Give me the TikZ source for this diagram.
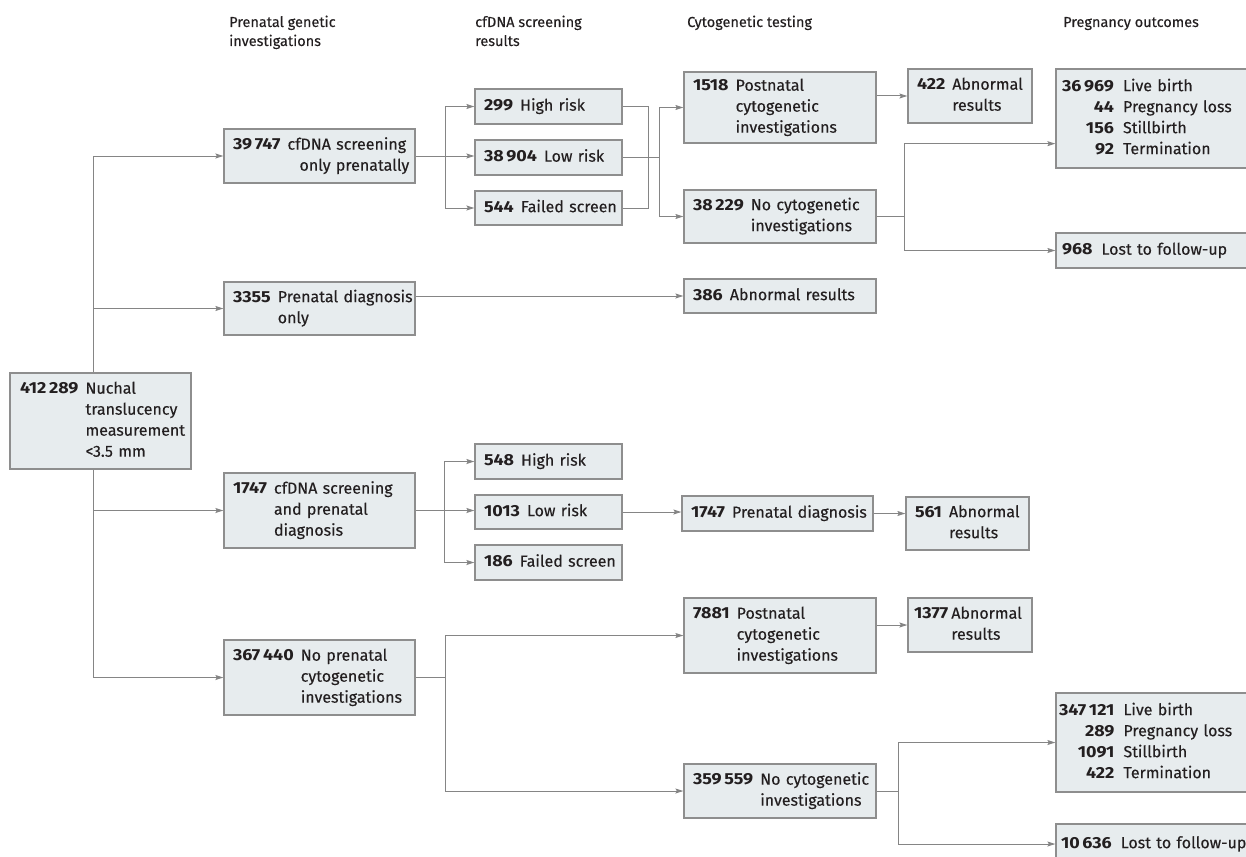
\documentclass[tikz,border=0pt]{standalone}
\usepackage{fontspec}
\setmainfont{Fira Sans}[UprightFeatures={FakeBold=0.25},BoldFeatures={FakeStretch=1.12}]
\usetikzlibrary{arrows.meta}

\definecolor{boxfill}{HTML}{E7ECEE}
\definecolor{boxline}{HTML}{8E8E8E}
\definecolor{linkcol}{HTML}{858585}
\definecolor{ink}{HTML}{231F20}

\pgfdeclarelayer{background}
\pgfsetlayers{background,main}

% number column (bold, right aligned) followed by the description
\newcommand\boxtext[1]{\begin{tabular}{@{}r@{\hspace{7pt}}l@{}}#1\end{tabular}}
\newcommand\outtext[1]{\begin{tabular}{@{}r@{\hspace{9pt}}l@{}}#1\end{tabular}}

% \flowbox[padding]{name}{x1}{y1}{x2}{y2}{content}
\newcommand\flowbox[7][9]{%
  \pgfmathsetmacro\fbw{#5-#3}%
  \pgfmathsetmacro\fbh{#6-#4}%
  \pgfmathsetmacro\fbt{#5-#3-2*#1}%
  \pgfmathsetmacro\fbx{(#3+#5)/2}%
  \pgfmathsetmacro\fby{(#4+#6)/2}%
  \node[stagebox, inner xsep=#1pt, minimum width=\fbw pt, minimum height=\fbh pt,
        text width=\fbt pt] (#2) at (\fbx,\fby) {#7};%
}

\tikzset{
  stagebox/.style={draw=boxline, fill=boxfill, line width=1.3pt, inner ysep=0pt,
    align=left, text=ink, font=\fontsize{16}{21}\selectfont},
  colhead/.style={anchor=base west, inner sep=0pt, text=ink,
    font=\fontsize{14.5}{19}\selectfont},
  link/.style={draw=linkcol, line width=1pt},
  flow/.style={link, -{Stealth[length=8pt,width=5pt,inset=1.5pt]}},
}

\begin{document}
\begin{tikzpicture}[x=1pt,y=-1pt]
\useasboundingbox (0,0) rectangle (1246,856);

% column headings
\node[colhead] (h1) at (229,27) {\begin{tabular}[t]{@{}l@{}}Prenatal genetic\\investigations\end{tabular}};
\node[colhead] (h2) at (475,27) {\begin{tabular}[t]{@{}l@{}}cfDNA screening\\results\end{tabular}};
\node[colhead] (h3) at (687,27) {Cytogenetic testing};
\node[colhead] (h4) at (1063,27) {Pregnancy outcomes};

% cohort
\flowbox[10]{root}{10}{373}{191}{469}{\boxtext{\textbf{412\,289} & Nuchal\\ & translucency\\ & measurement\\ & <3.5 mm}}

% prenatal genetic investigations
\flowbox{b1}{224}{129}{415}{183}{\boxtext{\textbf{39\,747} & cfDNA screening\\ & \hspace{12pt}only prenatally}}
\flowbox{b2}{224}{282}{415}{335}{\boxtext{\textbf{3355} & Prenatal diagnosis\\ & only}}
\flowbox{b3}{224}{473}{415}{548}{\boxtext{\textbf{1747} & cfDNA screening\\ & and prenatal\\ & diagnosis}}
\flowbox{b4}{224}{640}{415}{715}{\boxtext{\textbf{367\,440} & No prenatal\\ & cytogenetic\\ & investigations}}

% cfDNA screening results
\flowbox{hr1}{475}{89}{622}{124}{\boxtext{\textbf{299} & High risk}}
\flowbox{lr1}{475}{140}{622}{175}{\boxtext{\textbf{38\,904} & Low risk}}
\flowbox{fs1}{475}{191}{622}{225}{\boxtext{\textbf{544} & Failed screen}}
\flowbox{hr2}{475}{444}{622}{479}{\boxtext{\textbf{548} & High risk}}
\flowbox{lr2}{475}{495}{622}{529}{\boxtext{\textbf{1013} & Low risk}}
\flowbox{fs2}{475}{545}{622}{580}{\boxtext{\textbf{186} & Failed screen}}

% cytogenetic testing
\flowbox{pc1}{684}{72}{876}{143}{\boxtext{\textbf{1518} & Postnatal\\ & cytogenetic\\ & investigations}}
\flowbox{nc1}{684}{190}{876}{243}{\boxtext{\textbf{38\,229} & No cytogenetic\\ & investigations}}
\flowbox{ab2}{684}{279}{876}{313}{\boxtext{\textbf{386} & Abnormal results}}
\flowbox{pd}{682}{496}{873}{531}{\boxtext{\textbf{1747} & Prenatal diagnosis}}
\flowbox{pc2}{684}{598}{876}{673}{\boxtext{\textbf{7881} & Postnatal\\ & cytogenetic\\ & investigations}}
\flowbox{nc2}{684}{764}{876}{818}{\boxtext{\textbf{359\,559} & No cytogenetic\\ & investigations}}

% abnormal results
\flowbox{ab1}{908}{69}{1032}{123}{\boxtext{\textbf{422} & Abnormal\\ & results}}
\flowbox{ab3}{906}{497}{1029}{550}{\boxtext{\textbf{561} & Abnormal\\ & results}}
\flowbox[6]{ab4}{908}{598}{1032}{652}{\begin{tabular}{@{}r@{\hspace{3pt}}l@{}}\textbf{1377} & Abnormal\\ & results\end{tabular}}

% pregnancy outcomes
\flowbox[6]{out1}{1056}{69}{1258}{168}{\outtext{\textbf{36\,969} & Live birth\\ \textbf{44} & Pregnancy loss\\ \textbf{156} & Stillbirth\\ \textbf{92} & Termination}}
\flowbox[6]{lost1}{1056}{233}{1258}{268}{\outtext{\textbf{968} & Lost to follow-up}}
\flowbox[3]{out2}{1056}{693}{1258}{792}{\outtext{\textbf{347\,121} & Live birth\\ \textbf{289} & Pregnancy loss\\ \textbf{1091} & Stillbirth\\ \textbf{422} & Termination}}
\flowbox[5]{lost2}{1056}{824}{1258}{864}{\outtext{\textbf{10\,636} & Lost to follow-up}}

% branch points of the connectors
\coordinate (trunk) at (93,0);
\coordinate (sA) at (445,0);
\coordinate (mA) at (648,0);
\coordinate (mB) at (659,0);
\coordinate (mC) at (904,0);
\coordinate (sB) at (444,0);
\coordinate (mD) at (445,0);
\coordinate (mE) at (898,0);
\coordinate (out1tip) at ([yshift=25pt]out1.south west);

\begin{pgfonlayer}{background}
  % cohort to the four groups
  \draw[link] (trunk |- b1.west) -- (trunk |- b4.west);
  \foreach \g in {b1,b2,b3,b4} \draw[flow] (trunk |- \g.west) -- (\g.west);

  % cfDNA screening only
  \draw[flow] (b1.east) -- (b1.east -| lr1.west);
  \draw[link] (sA |- hr1.west) -- (sA |- fs1.west);
  \draw[flow] (sA |- hr1.west) -- (hr1.west);
  \draw[flow] (sA |- fs1.west) -- (fs1.west);
  \draw[link] (hr1.east) -| (mA |- fs1.east) -- (fs1.east);
  \draw[link] (lr1.east) -- (lr1.east -| mB);
  \draw[link] (mB |- pc1.west) -- (mB |- nc1.west);
  \draw[flow] (mB |- pc1.west) -- (pc1.west);
  \draw[flow] (mB |- nc1.west) -- (nc1.west);
  \draw[flow] (ab1.west -| pc1.east) -- (ab1.west);
  \draw[link] (nc1.east) -- (nc1.east -| mC);
  \draw[link] (mC |- out1tip) -- (mC |- lost1.west);
  \draw[flow] (mC |- out1tip) -- (out1tip);
  \draw[flow] (mC |- lost1.west) -- (lost1.west);

  % prenatal diagnosis only
  \draw[flow] (b2.east |- ab2.west) -- (ab2.west);

  % cfDNA screening and prenatal diagnosis
  \draw[flow] (b3.east) -- (b3.east -| lr2.west);
  \draw[link] (sB |- hr2.west) -- (sB |- fs2.west);
  \draw[flow] (sB |- hr2.west) -- (hr2.west);
  \draw[flow] (sB |- fs2.west) -- (fs2.west);
  \draw[flow] (lr2.east) -- (lr2.east -| pd.west);
  \draw[flow] (pd.east) -- (pd.east -| ab3.west);

  % no prenatal cytogenetic investigations
  \draw[link] (b4.east) -- (b4.east -| mD);
  \draw[link] (mD |- pc2.west) -- (mD |- nc2.west);
  \draw[flow] (mD |- pc2.west) -- (pc2.west);
  \draw[flow] (mD |- nc2.west) -- (nc2.west);
  \draw[flow] (ab4.west -| pc2.east) -- (ab4.west);
  \draw[link] (nc2.east) -- (nc2.east -| mE);
  \draw[link] (mE |- out2.west) -- (mE |- lost2.west);
  \draw[flow] (mE |- out2.west) -- (out2.west);
  \draw[flow] (mE |- lost2.west) -- (lost2.west);
\end{pgfonlayer}
\end{tikzpicture}
\end{document}
